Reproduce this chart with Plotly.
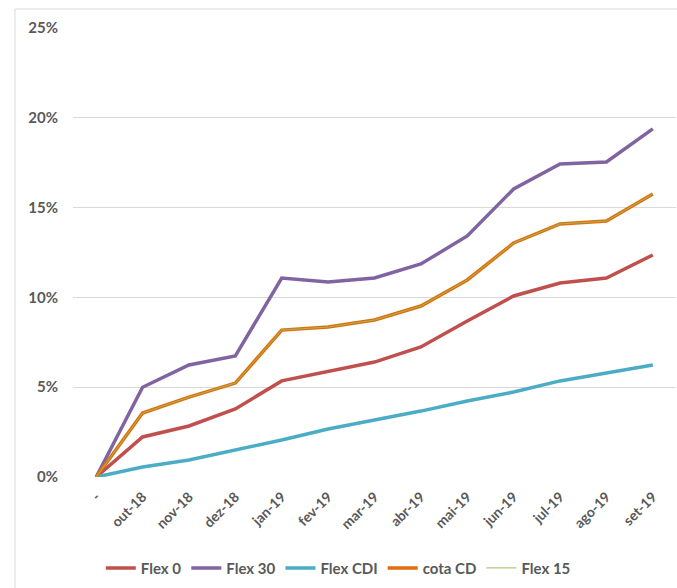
import plotly.graph_objects as go

categories = ["-", "out-18", "nov-18", "dez-18", "jan-19", "fev-19", "mar-19",
              "abr-19", "mai-19", "jun-19", "jul-19", "ago-19", "set-19"]
flex0 = [0, 2.23, 2.84, 3.79, 5.35, 5.90, 6.40, 7.24, 8.69, 10.08, 10.80, 11.08, 12.36]
flex30 = [0, 5.00, 6.24, 6.74, 11.08, 10.86, 11.08, 11.86, 13.42, 16.04, 17.43, 17.54, 19.38]
flex_cdi = [0, 0.56, 0.95, 1.50, 2.06, 2.67, 3.17, 3.67, 4.23, 4.73, 5.35, 5.79, 6.24]
cota_cd = [0, 3.56, 4.45, 5.23, 8.18, 8.35, 8.74, 9.52, 10.97, 13.03, 14.09, 14.25, 15.76]
flex15 = [0, 3.56, 4.45, 5.23, 8.18, 8.35, 8.74, 9.52, 10.97, 13.03, 14.09, 14.25, 15.76]
y_ticks = [0, 5, 10, 15, 20, 25]
y_tick_labels = ["0%", "5%", "10%", "15%", "20%", "25%"]

series = [
    ("Flex 0", flex0, "#C0504D", 3.5),
    ("Flex 30", flex30, "#8064A2", 3.5),
    ("Flex CDI", flex_cdi, "#4BACC6", 3.5),
    ("cota CD", cota_cd, "#E46C0A", 3.5),
    ("Flex 15", flex15, "#9BBB59", 1),
]

fig = go.Figure()
for name, vals, color, w in series:
    fig.add_trace(go.Scatter(x=categories, y=vals, mode="lines", name=name,
                             line=dict(color=color, width=w)))

font_col = "#595959"
fig.update_layout(
    width=677, height=588,
    margin=dict(l=73, r=1, t=28, b=111),
    paper_bgcolor="white", plot_bgcolor="white",
    font=dict(family="Lato, Carlito, Calibri, sans-serif", size=13, color=font_col, weight="bold"),
    showlegend=True,
    legend=dict(orientation="h", x=0.44, xanchor="center", y=-0.203, yanchor="middle",
                font=dict(size=15, color=font_col, weight="bold"), itemwidth=30,
                traceorder="normal"),
    xaxis=dict(type="category", range=[-0.5, 12.5], tickangle=-45, showgrid=False,
               zeroline=False, showline=False, ticks="", ticklabelstandoff=8,
               tickfont=dict(size=14, color=font_col, weight="bold")),
    yaxis=dict(range=[0, 25], tickvals=y_ticks, ticktext=y_tick_labels, showgrid=True,
               gridcolor="#D9D9D9", gridwidth=1, zeroline=False, showline=False,
               ticks="", ticklabelstandoff=14,
               tickfont=dict(size=15, color=font_col, weight="bold")),
)

# chart-area border (top and left edges visible)
fig.add_shape(type="line", xref="paper", yref="paper", x0=-0.0962, x1=1.01, y0=1.0423, y1=1.0423,
              line=dict(color="#D9D9D9", width=1))
fig.add_shape(type="line", xref="paper", yref="paper", x0=-0.0962, x1=-0.0962, y0=1.0423, y1=-0.3,
              line=dict(color="#D9D9D9", width=1))

fig.write_html("out.html")
